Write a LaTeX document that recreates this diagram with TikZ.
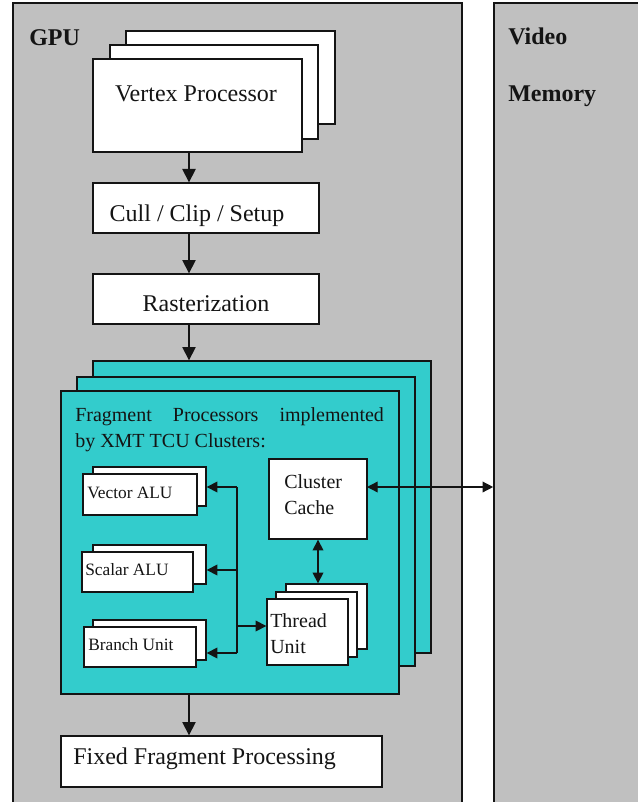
\documentclass[tikz,border=0pt]{standalone}
\usepackage{fontspec}
\setmainfont{Liberation Serif}
\usetikzlibrary{arrows.meta,fit}
\definecolor{panelgray}{HTML}{C0C0C0}
\definecolor{tealfill}{HTML}{33CCCC}
\definecolor{ink}{HTML}{141414}
\begin{document}
\begin{tikzpicture}[x=0.75pt,y=-0.75pt,
  box/.style={draw=ink, line width=1pt, fill=white, inner sep=0pt},
  tbox/.style={box, fill=tealfill},
  panel/.style={draw=ink, line width=1.2pt, fill=panelgray, inner sep=0pt},
  arr/.style={draw=ink, line width=1pt, -{Triangle[width=10pt,length=10pt]}},
  sarr/.style={draw=ink, line width=1pt, -{Triangle[width=8pt,length=8pt]}},
  darr/.style={draw=ink, line width=1pt, {Triangle[width=8pt,length=8pt]}-{Triangle[width=8pt,length=8pt]}},
  biglbl/.style={font=\fontsize{18}{20}\selectfont, inner sep=0pt, text=ink},
  headlbl/.style={font=\fontsize{18}{20}\selectfont\bfseries, inner sep=0pt, text=ink},
  midlbl/.style={font=\fontsize{15}{19.5}\selectfont, inner sep=0pt, text=ink},
  smalllbl/.style={font=\fontsize{13}{15}\selectfont, inner sep=0pt, text=ink}
]
\useasboundingbox (0,0) rectangle (638,802);
\clip (0,0) rectangle (638,802);
\fill[white] (0,0) rectangle (638,802);

% panels
\node[panel, fit={(13,3) (462,830)}] (gpu) {};
\node[panel, fit={(494,3) (680,830)}] (vmem) {};
\node[headlbl, anchor=base west] (gpulbl) at (29,46) {GPU};
\node[headlbl, anchor=base west] (vlbl) at (508,45) {Video};
\node[headlbl, anchor=base west] (mlbl) at (508,102) {Memory};

% vertex processor stack
\node[box, fit={(126,31) (335,124)}] (vp3) {};
\node[box, fit={(110,45) (318,139)}] (vp2) {};
\node[box, fit={(93,59) (302,152)}] (vp1) {};
\node[biglbl, anchor=base] (vpt) at (196,102) {Vertex Processor};

% cull / rasterization
\node[box, fit={(93,183) (319,233)}] (cull) {};
\node[biglbl, anchor=base] (cullt) at (197,221) {Cull / Clip / Setup};
\node[box, fit={(93,274) (319,324)}] (rast) {};
\node[biglbl, anchor=base] (rastt) at (206,311) {Rasterization};

% fragment processor stack
\node[tbox, fit={(93,361) (431,653)}] (fp3) {};
\node[tbox, fit={(77,377) (415,666)}] (fp2) {};
\node[tbox, fit={(61,391) (399,694)}] (fp1) {};
\node[midlbl, anchor=base west, align=left] (fpt) at (75,447)
  {\makebox[231.5pt][s]{Fragment Processors implemented}\\by XMT TCU Clusters:};

% inner units
\node[box, fit={(93,467) (206,506)}] (va2) {};
\node[box, fit={(83,474) (197,515)}] (va1) {};
\node[smalllbl, anchor=base west] (vat) at (87,498) {Vector ALU};
\node[box, fit={(93,545) (206,584)}] (sa2) {};
\node[box, fit={(82,552) (193,592)}] (sa1) {};
\node[smalllbl, anchor=base west] (sat) at (85,575) {Scalar ALU};
\node[box, fit={(93,620) (206,660)}] (bu2) {};
\node[box, fit={(84,627) (196,667)}] (bu1) {};
\node[smalllbl, anchor=base west] (but) at (88,650) {Branch Unit};

\node[box, fit={(269,459) (367,539)}] (cache) {};
\node[midlbl, anchor=base west, align=left] (cachet) at (284,514) {Cluster\\Cache};

\node[box, fit={(286,584) (367,649)}] (tu3) {};
\node[box, fit={(276,592) (357,657)}] (tu2) {};
\node[box, fit={(267,599) (348,665)}] (tu1) {};
\node[midlbl, anchor=base west, align=left] (tut) at (270,653) {Thread\\Unit};

% fixed fragment processing
\node[box, fit={(61,736) (382,787)}] (fixed) {};
\node[biglbl, anchor=base west] (fixedt) at (73,764) {Fixed Fragment Processing};

% main pipeline arrows
\coordinate (spine) at (189,0);
\draw[arr] (spine |- vp1.south) -- (spine |- cull.north);
\draw[arr] (spine |- cull.south) -- (spine |- rast.north);
\draw[arr] (spine |- rast.south) -- (spine |- fp3.north);
\draw[arr] (spine |- fp1.south) -- (spine |- fixed.north);

% bus inside cluster
\coordinate (busV) at (237,487);
\coordinate (busS) at (237,570);
\coordinate (busT) at (237,626);
\coordinate (busB) at (237,653);
\draw[draw=ink, line width=1pt] (busV) -- (busB);
\draw[sarr] (busV) -- (busV -| va2.east);
\draw[sarr] (busS) -- (busS -| sa2.east);
\draw[sarr] (busB) -- (busB -| bu2.east);
\draw[sarr] (busT) -- (busT -| tu1.west);

% cache links
\draw[darr] (cache.south) -- (cache.south |- tu3.north);
\coordinate (cacheV) at (367,487);
\draw[darr] (cacheV) -- (cacheV -| vmem.west);
\end{tikzpicture}
\end{document}
